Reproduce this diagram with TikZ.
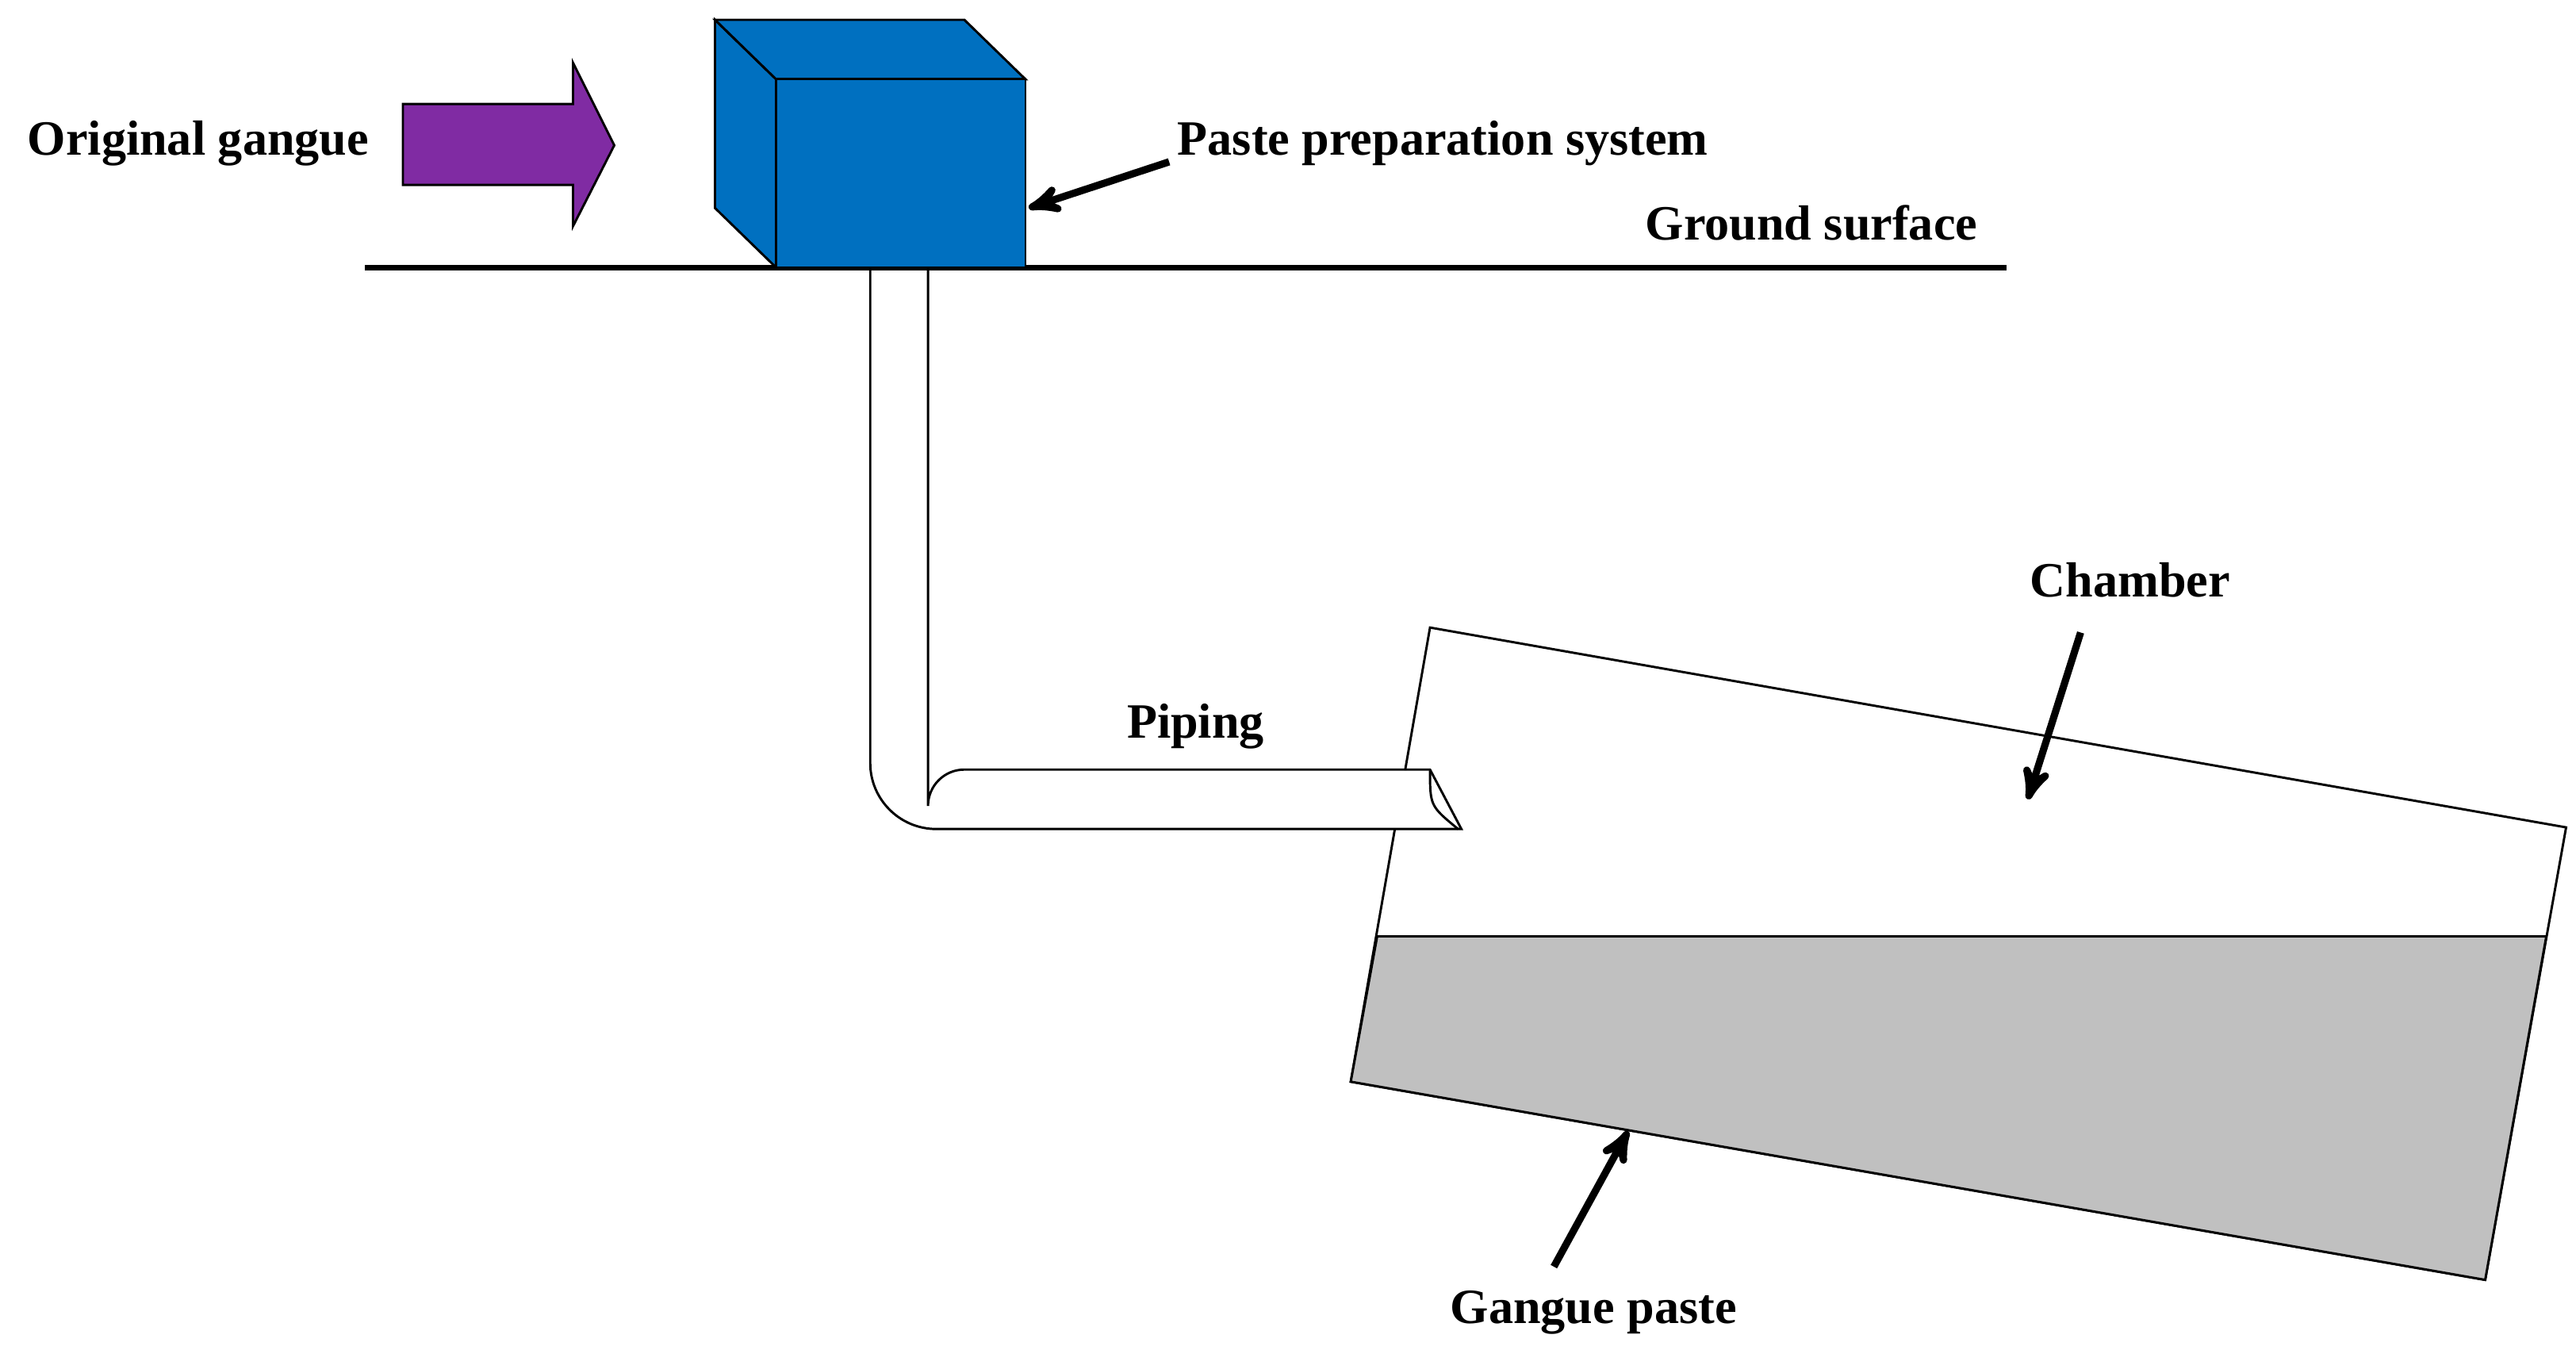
\documentclass[tikz,border=0pt]{standalone}
\usepackage{fontspec}
\setmainfont{Liberation Serif}
\usetikzlibrary{arrows}
\tikzset{
    %Define standard arrow tip
    >=stealth',
    % text labels
    lbl/.style={font=\fontsize{17}{20}\selectfont\bfseries, inner sep=1pt},
    % pointer arrows
    pil/.style={->, line width=2.5pt},
    % thin outlines
    edge/.style={draw=black, line width=0.8pt}
}
\definecolor{boxblue}{RGB}{0,112,192}
\definecolor{gangue}{RGB}{128,43,163}
\definecolor{paste}{RGB}{192,192,192}
\begin{document}
\begin{tikzpicture}[x=0.02cm, y=-0.02cm]
        \useasboundingbox (0,0) rectangle (1560,817);

        % chamber
        \filldraw[edge, fill=white] (866,380) -- (1554,501) -- (1505,775) -- (818,655) -- cycle;
        % gangue paste layer
        \filldraw[edge, fill=paste] (834,567) -- (1542,567) -- (1505,775) -- (818,655) -- cycle;

        % piping
        \filldraw[edge, fill=white] (527,162) -- (527,462) arc[start angle=180, end angle=90, radius=40]
            -- (885,502) -- (866,466) -- (584,466) arc[start angle=270, end angle=180, radius=22]
            -- (562,162) -- cycle;
        \draw[edge] (866,466) .. controls (866,488) .. (883,502);

        % ground surface
        \draw[line width=2pt] (221,162) -- (1215,162);

        % paste preparation system (cube)
        \filldraw[edge, fill=boxblue] (433,12) -- (470,48) -- (470,162) -- (433,126) -- cycle;
        \filldraw[edge, fill=boxblue] (433,12) -- (584,12) -- (621,48) -- (470,48) -- cycle;
        \filldraw[edge, fill=boxblue] (470,48) rectangle (621,162);
        \coordinate (cube) at (623,126);

        % original gangue arrow
        \filldraw[edge, fill=gangue] (244,63) -- (347,63) -- (347,38) -- (372,88)
            -- (347,137) -- (347,112) -- (244,112) -- cycle;

        % labels
        \node[lbl] (orig) at (120,87) {Original gangue};
        \node[lbl, anchor=west] (pps) at (711,87) {Paste preparation system};
        \node[lbl] (ground) at (1097,135) {Ground surface};
        \node[lbl] (piping) at (724,440) {Piping};
        \node[lbl] (chamber) at (1290,351) {Chamber};
        \node[lbl] (gp) at (965,795) {Gangue paste};
        \coordinate (chtip) at (1228,484);
        \coordinate (gptip) at (986,685);

        % pointers
        \draw[pil] (708,98) -- (cube);
        \draw[pil] (1260,383) -- (chtip);
        \draw[pil] (941,767) -- (gptip);
\end{tikzpicture}
\end{document}
